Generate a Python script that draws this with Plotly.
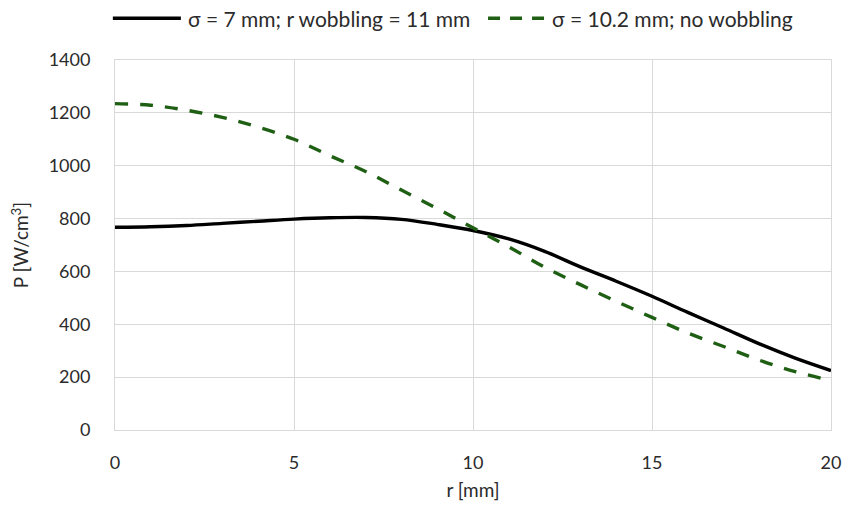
import plotly.graph_objects as go

r = list(range(0, 21))
p_wobble = [767, 769, 774, 782, 790, 798, 803, 804, 797, 778, 755, 723, 676, 617, 563, 506, 445, 386, 326, 272, 225]
p_nowobble = [1235, 1229, 1210, 1183, 1146, 1100, 1038, 978, 908, 838, 765, 693, 616, 550, 487, 426, 367, 316, 264, 221, 187]

name1 = "σ = 7 mm; r wobbling = 11 mm"
name2 = "σ = 10.2 mm; no wobbling"

FONT = "Lato"
TXT = "#2b2b2b"
GRID = "#d9d9d9"
C1 = "black"
C2 = "#1f5f14"

fig = go.Figure()
fig.add_trace(go.Scatter(x=r, y=p_wobble, mode="lines", name=name1, showlegend=False,
                         line=dict(color=C1, width=3.4, shape="spline")))
fig.add_trace(go.Scatter(x=r, y=p_nowobble, mode="lines", name=name2, showlegend=False,
                         line=dict(color=C2, width=3.4, shape="spline", dash="13px,12px")))

# custom legend above the plot (paper coordinates)
LY = 1.113
fig.add_shape(type="line", xref="paper", yref="paper", x0=-0.003, x1=0.092, y0=LY, y1=LY,
              line=dict(color=C1, width=3.4))
fig.add_shape(type="line", xref="paper", yref="paper", x0=0.521, x1=0.601, y0=LY, y1=LY,
              line=dict(color=C2, width=3.4, dash="12px,10px"))
fig.add_annotation(xref="paper", yref="paper", x=0.099, y=LY, xanchor="left", yanchor="middle",
                   text=name1, showarrow=False, font=dict(family=FONT, size=21, color=TXT))
fig.add_annotation(xref="paper", yref="paper", x=0.607, y=LY, xanchor="left", yanchor="middle",
                   text=name2, showarrow=False, font=dict(family=FONT, size=21, color=TXT))

fig.update_layout(
    width=845, height=512,
    margin=dict(l=115, r=14, t=60, b=82),
    paper_bgcolor="white", plot_bgcolor="white",
    font=dict(family=FONT, size=18, color=TXT),
    showlegend=False,
)
fig.update_xaxes(range=[0, 20], tickvals=[0, 5, 10, 15, 20], showgrid=True, gridcolor=GRID,
                 gridwidth=1, zeroline=False, showline=True, linecolor=GRID, mirror=True,
                 ticks="", ticklabelstandoff=16, automargin=False,
                 tickfont=dict(family=FONT, size=18, color=TXT),
                 title=dict(text="r [mm]", font=dict(family=FONT, size=19, color=TXT), standoff=12))
fig.update_yaxes(range=[0, 1400], tickvals=list(range(0, 1401, 200)), showgrid=True, gridcolor=GRID,
                 gridwidth=1, zeroline=False, showline=True, linecolor=GRID, mirror=True,
                 ticks="", ticklabelstandoff=20, automargin=False,
                 tickfont=dict(family=FONT, size=18, color=TXT),
                 title=dict(text="P [W/cm<sup>3</sup>]", font=dict(family=FONT, size=19, color=TXT), standoff=14))

fig.write_html("out.html")
